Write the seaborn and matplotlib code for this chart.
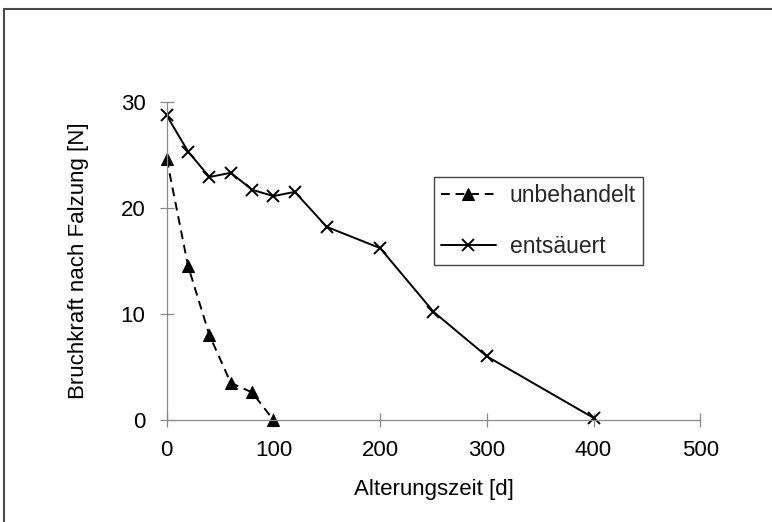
import matplotlib
matplotlib.use("Agg")
import matplotlib.pyplot as plt
from matplotlib.lines import Line2D
import seaborn as sns

# Werte
days_unbehandelt = [0, 20, 40, 60, 80, 100]
force_unbehandelt = [24.6, 14.5, 8.0, 3.5, 2.6, 0.0]

days_entsaeuert = [0, 20, 40, 60, 80, 100, 120, 150, 200, 250, 300, 400]
force_entsaeuert = [28.7, 25.3, 22.9, 23.3, 21.7, 21.1, 21.5, 18.2, 16.2, 10.2, 6.0, 0.2]

x_ticks = [0, 100, 200, 300, 400, 500]
y_ticks = [0, 10, 20, 30]

sns.set_theme(style="white")
plt.rcParams["font.family"] = ["Liberation Sans", "DejaVu Sans"]

fig = plt.figure(figsize=(7.72, 5.22), dpi=100)
ax = fig.add_axes([0.216, 0.1954, 0.691, 0.6098])

axis_grey = "#8a8a8a"

# unbehandelt: gestrichelt mit Dreiecken
sns.lineplot(x=days_unbehandelt, y=force_unbehandelt, ax=ax, color="black",
             linestyle=(0, (4.5, 3)), linewidth=1.4, marker="^", markersize=8,
             markeredgecolor="black", markerfacecolor="black",
             label="unbehandelt", clip_on=False)

# entsäuert: durchgezogen mit Kreuzen
sns.lineplot(x=days_entsaeuert, y=force_entsaeuert, ax=ax, color="black",
             linestyle="-", linewidth=1.4, marker="x", markersize=9,
             markeredgewidth=1.4, markeredgecolor="black",
             label="entsäuert", clip_on=False)

ax.set_xlim(0, 500)
ax.set_ylim(0, 30)
ax.set_xticks(x_ticks)
ax.set_yticks(y_ticks)
ax.tick_params(axis="both", bottom=True, left=True, direction="inout",
               length=10.5, width=0.9, color=axis_grey, labelsize=16,
               labelcolor="black")
ax.tick_params(axis="x", pad=9)
ax.tick_params(axis="y", pad=10)

for side in ["top", "right"]:
    ax.spines[side].set_visible(False)
for side in ["left", "bottom"]:
    ax.spines[side].set_color(axis_grey)
    ax.spines[side].set_linewidth(0.9)

ax.set_xlabel("Alterungszeit [d]", fontsize=16, color="black")
ax.set_ylabel("Bruchkraft nach Falzung [N]", fontsize=16, color="black")
ax.xaxis.set_label_coords(0.5, -0.185)
ax.yaxis.set_label_coords(-0.146, 0.5)

leg = ax.legend(loc="upper left", bbox_to_anchor=(0.501, 0.7625),
                fontsize=16.5, frameon=True, fancybox=False, shadow=False,
                handlelength=2.4, handletextpad=0.6, labelspacing=1.2,
                borderpad=0.3, borderaxespad=0, framealpha=1)
leg.get_frame().set_edgecolor("#444444")
leg.get_frame().set_linewidth(1.0)

# Rahmen um die Grafik (nur oben und links sichtbar)
frame_color = "#4a4a4a"
fig.add_artist(Line2D([0.0058, 0.0058], [0, 0.9837], transform=fig.transFigure,
                      color=frame_color, linewidth=1.5))
fig.add_artist(Line2D([0.0058, 1], [0.9837, 0.9837], transform=fig.transFigure,
                      color=frame_color, linewidth=1.5))

fig.savefig("out.png", dpi=100)
